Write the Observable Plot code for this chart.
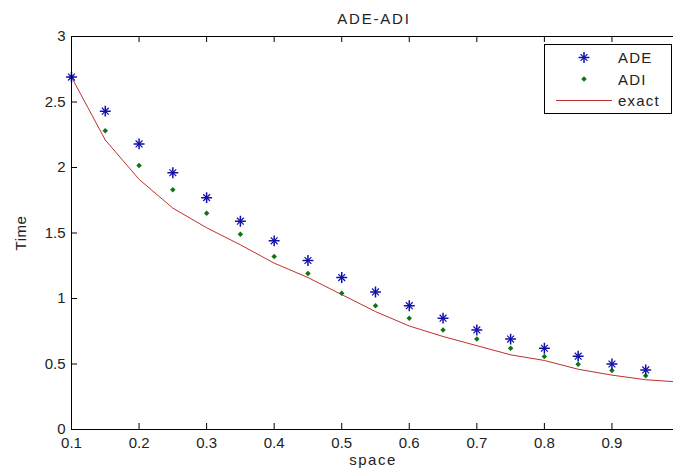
<!DOCTYPE html>
<html>
<head>
<meta charset="utf-8">
<script src="https://cdn.jsdelivr.net/npm/d3@7"></script>
<script src="https://cdn.jsdelivr.net/npm/@observablehq/plot@0.6"></script>
<style>
  html, body { margin: 0; padding: 0; background: white; overflow: hidden; }
  #chart { width: 673px; height: 471px; overflow: hidden; }
</style>
</head>
<body>
<div id="chart"></div>
<script>
// ---- data ----
const spaceX = [0.1, 0.15, 0.2, 0.25, 0.3, 0.35, 0.4, 0.45, 0.5, 0.55, 0.6, 0.65, 0.7, 0.75, 0.8, 0.85, 0.9, 0.95];
const adeValues = [2.69, 2.43, 2.18, 1.96, 1.77, 1.59, 1.44, 1.29, 1.16, 1.05, 0.945, 0.85, 0.76, 0.69, 0.62, 0.56, 0.50, 0.455];
const adiValues = [2.69, 2.28, 2.015, 1.83, 1.65, 1.49, 1.32, 1.19, 1.04, 0.945, 0.85, 0.76, 0.69, 0.62, 0.557, 0.498, 0.45, 0.41];
const exactX = [0.1, 0.15, 0.2, 0.25, 0.3, 0.35, 0.4, 0.45, 0.5, 0.55, 0.6, 0.65, 0.7, 0.75, 0.8, 0.85, 0.9, 0.95, 1.0];
const exactValues = [2.69, 2.21, 1.91, 1.69, 1.54, 1.41, 1.27, 1.16, 1.03, 0.90, 0.79, 0.71, 0.64, 0.57, 0.527, 0.46, 0.415, 0.38, 0.362];
const xTicks = [0.1, 0.2, 0.3, 0.4, 0.5, 0.6, 0.7, 0.8, 0.9, 1.0];
const xTickLabels = [0.1, 0.2, 0.3, 0.4, 0.5, 0.6, 0.7, 0.8, 0.9];
const yTicks = [0, 0.5, 1, 1.5, 2, 2.5, 3];
const seriesNames = ["ADE", "ADI", "exact"];
const titleText = "ADE-ADI";
const xLabel = "space";
const yLabel = "Time";

const ade = spaceX.map((x, i) => ({x, y: adeValues[i]}));
const adi = spaceX.map((x, i) => ({x, y: adiValues[i]}));
const exact = exactX.map((x, i) => ({x, y: exactValues[i]}));

const BLUE = "#1010a8", GREEN = "#137213", RED = "#c0302c";
const W = 680, H = 471, ML = 71, MR = 1, MT = 36, MB = 42;
const innerW = W - ML - MR, innerH = H - MT - MB;
const tickLen = 6;

const svg = Plot.plot({
  width: W, height: H,
  marginLeft: ML, marginRight: MR, marginTop: MT, marginBottom: MB,
  style: {fontFamily: "'Liberation Sans', Arial, sans-serif", fontSize: "15px", background: "white", color: "black"},
  x: {domain: [0.1, 1.0], ticks: xTicks},
  y: {domain: [0, 3], ticks: yTicks},
  marks: [
    Plot.axisX({ticks: xTickLabels, tickSize: 0, tickPadding: 8, label: null, tickFormat: d => String(d), fill: "#222", letterSpacing: 1}),
    Plot.axisY({ticks: yTicks, tickSize: 0, tickPadding: 6, label: null, tickFormat: d => String(d), fill: "#222", letterSpacing: 1}),
    Plot.tickX(xTicks, {x: d => d, insetTop: innerH - tickLen, stroke: "black"}),
    Plot.tickX(xTicks, {x: d => d, insetBottom: innerH - tickLen, stroke: "black"}),
    Plot.tickY(yTicks, {y: d => d, insetRight: innerW - tickLen, stroke: "black"}),
    Plot.line(exact, {x: "x", y: "y", stroke: RED, strokeWidth: 1}),
    Plot.dot(adi, {x: "x", y: "y", symbol: "square", r: 2.2, rotate: 45, fill: GREEN, stroke: "none"}),
    Plot.dot(ade, {x: "x", y: "y", symbol: "plus", r: 3.6, stroke: BLUE, strokeWidth: 1.5}),
    Plot.dot(ade, {x: "x", y: "y", symbol: "times", r: 3.2, stroke: BLUE, strokeWidth: 1.2}),
    Plot.frame({stroke: "black"})
  ]
});
svg.style.maxWidth = "none";
svg.setAttribute("width", W);
document.getElementById("chart").appendChild(svg);

const s = d3.select(svg);
const font = "'Liberation Sans', Arial, sans-serif";
s.append("text").attr("x", 374).attr("y", 24).attr("text-anchor", "middle")
  .attr("font-family", font).attr("font-size", 15).attr("letter-spacing", 1.8).attr("fill", "#222").text(titleText);
s.append("text").attr("x", 373).attr("y", 465).attr("text-anchor", "middle")
  .attr("font-family", font).attr("font-size", 15).attr("letter-spacing", 1.5).attr("fill", "#222").text(xLabel);
s.append("text").attr("transform", "translate(26,233) rotate(-90)").attr("text-anchor", "middle")
  .attr("font-family", font).attr("font-size", 15).attr("letter-spacing", 0.5).attr("fill", "#222").text(yLabel);

// legend
const lg = s.append("g");
lg.append("rect").attr("x", 544.5).attr("y", 44.5).attr("width", 127).attr("height", 69)
  .attr("fill", "white").attr("stroke", "black");
const rows = [57.5, 79, 100];
const plusSize = Math.PI * 3.6 * 3.6, timesSize = Math.PI * 3.2 * 3.2;
lg.append("path").attr("transform", `translate(584,${rows[0]})`).attr("d", d3.symbol(d3.symbolPlus, plusSize)())
  .attr("fill", "none").attr("stroke", BLUE).attr("stroke-width", 1.5);
lg.append("path").attr("transform", `translate(584,${rows[0]})`).attr("d", d3.symbol(d3.symbolTimes, timesSize)())
  .attr("fill", "none").attr("stroke", BLUE).attr("stroke-width", 1.2);
lg.append("path").attr("transform", `translate(584,${rows[1]}) rotate(45)`).attr("d", d3.symbol(d3.symbolSquare, Math.PI * 2.2 * 2.2)())
  .attr("fill", GREEN);
lg.append("line").attr("x1", 556).attr("x2", 612).attr("y1", rows[2] + 0.5).attr("y2", rows[2] + 0.5)
  .attr("stroke", RED).attr("stroke-width", 1);
seriesNames.forEach((name, i) => {
  lg.append("text").attr("x", 618).attr("y", rows[i] + 5.5).attr("text-anchor", "start")
    .attr("font-family", font).attr("font-size", 15).attr("letter-spacing", 1.2).attr("fill", "#222").text(name);
});
</script>
</body>
</html>
